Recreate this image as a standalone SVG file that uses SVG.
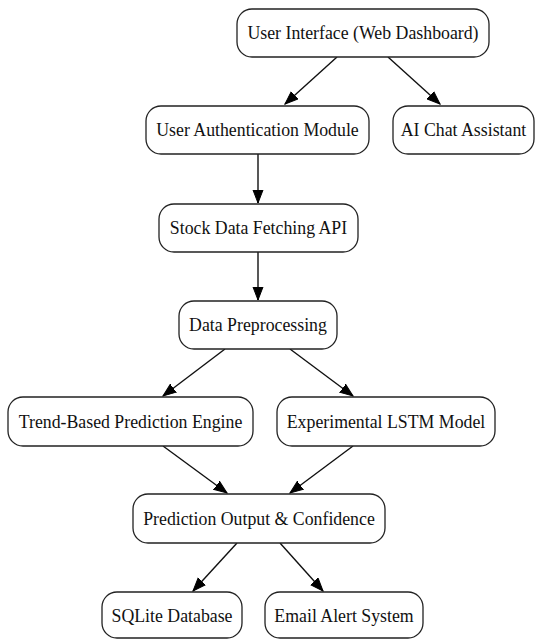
<svg xmlns="http://www.w3.org/2000/svg" width="535" height="639" viewBox="0 0 535 639">
  <style>
    .box { fill: #ffffff; stroke: #222222; stroke-width: 1.3; }
    .lbl { font-family: "Liberation Serif", "Times New Roman", serif; font-size: 17.8px; fill: #111111; text-anchor: middle; dominant-baseline: central; }
    .edge { stroke: #111111; stroke-width: 1.4; fill: none; marker-end: url(#arrow); }
  </style>
  <defs>
    <marker id="arrow" markerUnits="userSpaceOnUse" markerWidth="14" markerHeight="12" viewBox="0 0 14 12" refX="13" refY="6" orient="auto">
      <polygon points="0,1 13,6 0,11" fill="#000000" stroke="#000000" stroke-width="1"/>
    </marker>
  </defs>
  <rect width="535" height="639" fill="#ffffff"/>

  <g id="connectors">
    <line class="edge" x1="337" y1="57" x2="285" y2="104"/>
    <line class="edge" x1="388" y1="57" x2="440" y2="104"/>
    <line class="edge" x1="258" y1="154" x2="258" y2="203"/>
    <line class="edge" x1="258" y1="252" x2="258" y2="300"/>
    <line class="edge" x1="225" y1="349" x2="163" y2="396"/>
    <line class="edge" x1="290" y1="349" x2="353" y2="396"/>
    <line class="edge" x1="163" y1="446" x2="227" y2="493"/>
    <line class="edge" x1="353" y1="446" x2="290" y2="493"/>
    <line class="edge" x1="237" y1="543" x2="193" y2="591"/>
    <line class="edge" x1="280" y1="543" x2="323" y2="591"/>
  </g>

  <g id="ui">
    <rect class="box" x="237" y="9" width="252" height="48" rx="15"/>
    <text class="lbl" x="363" y="33">User Interface (Web Dashboard)</text>
  </g>
  <g id="auth">
    <rect class="box" x="146" y="106" width="223" height="48" rx="15"/>
    <text class="lbl" x="257.5" y="130">User Authentication Module</text>
  </g>
  <g id="chat">
    <rect class="box" x="393" y="106" width="141" height="48" rx="15"/>
    <text class="lbl" x="463.5" y="130">AI Chat Assistant</text>
  </g>
  <g id="fetch">
    <rect class="box" x="159" y="204" width="199" height="48" rx="15"/>
    <text class="lbl" x="258.5" y="228">Stock Data Fetching API</text>
  </g>
  <g id="preprocess">
    <rect class="box" x="179" y="301" width="158" height="48" rx="15"/>
    <text class="lbl" x="258" y="325">Data Preprocessing</text>
  </g>
  <g id="trend">
    <rect class="box" x="8" y="397" width="245" height="49" rx="15"/>
    <text class="lbl" x="130.5" y="421.5">Trend-Based Prediction Engine</text>
  </g>
  <g id="lstm">
    <rect class="box" x="277" y="397" width="218" height="49" rx="15"/>
    <text class="lbl" x="386" y="421.5">Experimental LSTM Model</text>
  </g>
  <g id="output">
    <rect class="box" x="133" y="494" width="252" height="49" rx="15"/>
    <text class="lbl" x="259" y="518.5">Prediction Output &amp; Confidence</text>
  </g>
  <g id="sqlite">
    <rect class="box" x="102" y="592" width="140" height="46" rx="15"/>
    <text class="lbl" x="172" y="616">SQLite Database</text>
  </g>
  <g id="email">
    <rect class="box" x="265" y="592" width="158" height="46" rx="15"/>
    <text class="lbl" x="344" y="616">Email Alert System</text>
  </g>
</svg>
